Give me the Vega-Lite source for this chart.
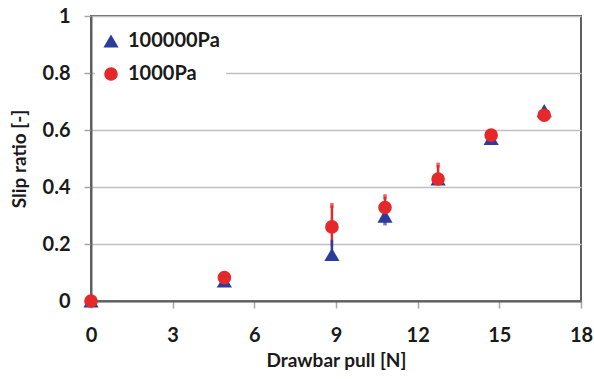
{
  "$schema": "https://vega.github.io/schema/vega-lite/v6.json",
  "autosize": {"type": "none"},
  "width": 490,
  "height": 285,
  "padding": {"left": 91, "top": 16, "right": 12, "bottom": 78},
  "background": "white",
  "config": {
    "font": "Lato",
    "view": {"stroke": "#5f5f5f", "strokeWidth": 2},
    "axis": {
      "labelFont": "Lato", "labelFontWeight": "bold", "labelFontSize": 20, "labelColor": "#1a1a1a",
      "titleFont": "Lato", "titleFontWeight": "bold", "titleFontSize": 19, "titleColor": "#1a1a1a",
      "tickColor": "#a6a6a6", "tickSize": 7, "tickWidth": 1.5,
      "domainColor": "#5f5f5f", "domainWidth": 2
    }
  },
  "data": {
    "values": [
      {"pull": 0, "slip": 0.0, "series": "100000Pa", "lo": null, "hi": null},
      {"pull": 4.9, "slip": 0.07, "series": "100000Pa", "lo": null, "hi": null},
      {"pull": 8.85, "slip": 0.163, "series": "100000Pa", "lo": 0.16, "hi": 0.215},
      {"pull": 10.8, "slip": 0.298, "series": "100000Pa", "lo": 0.274, "hi": 0.32},
      {"pull": 12.75, "slip": 0.428, "series": "100000Pa", "lo": 0.418, "hi": 0.44},
      {"pull": 14.7, "slip": 0.57, "series": "100000Pa", "lo": null, "hi": null},
      {"pull": 16.65, "slip": 0.668, "series": "100000Pa", "lo": null, "hi": null},
      {"pull": 0, "slip": 0.0, "series": "1000Pa", "lo": null, "hi": null},
      {"pull": 4.9, "slip": 0.082, "series": "1000Pa", "lo": null, "hi": null},
      {"pull": 8.85, "slip": 0.26, "series": "1000Pa", "lo": 0.19, "hi": 0.335},
      {"pull": 10.8, "slip": 0.328, "series": "1000Pa", "lo": 0.3, "hi": 0.366},
      {"pull": 12.75, "slip": 0.428, "series": "1000Pa", "lo": 0.41, "hi": 0.477},
      {"pull": 14.7, "slip": 0.582, "series": "1000Pa", "lo": null, "hi": null},
      {"pull": 16.65, "slip": 0.652, "series": "1000Pa", "lo": null, "hi": null}
    ]
  },
  "encoding": {
    "x": {
      "field": "pull", "type": "quantitative",
      "scale": {"domain": [0, 18], "nice": false, "zero": false},
      "axis": {"title": "Drawbar pull [N]", "values": [0, 3, 6, 9, 12, 15, 18], "grid": false, "labelPadding": 17, "titlePadding": 6, "labelFlush": false}
    }
  },
  "layer": [
    {
      "transform": [{"filter": "datum.lo != null && datum.series == '1000Pa'"}],
      "mark": {"type": "rule", "color": "#e5282a", "strokeWidth": 2.5},
      "encoding": {
        "y": {"field": "lo", "type": "quantitative"},
        "y2": {"field": "hi"}
      }
    },
    {
      "transform": [{"filter": "datum.lo != null && datum.series == '1000Pa'"}],
      "mark": {"type": "tick", "color": "#e5282a", "size": 5, "thickness": 3.5},
      "encoding": {"y": {"field": "hi", "type": "quantitative"}}
    },
    {
      "transform": [{"filter": "datum.lo != null && datum.series == '100000Pa'"}],
      "mark": {"type": "rule", "color": "#2b3c9b", "strokeWidth": 2.5},
      "encoding": {
        "y": {"field": "lo", "type": "quantitative"},
        "y2": {"field": "hi"}
      }
    },
    {
      "transform": [{"filter": "datum.lo != null && datum.series == '100000Pa'"}],
      "mark": {"type": "tick", "color": "#2b3c9b", "size": 5, "thickness": 3.5},
      "encoding": {"y": {"field": "lo", "type": "quantitative"}}
    },
    {
      "mark": {"type": "point", "filled": true, "opacity": 1, "clip": false},
      "encoding": {
        "y": {
          "field": "slip", "type": "quantitative",
          "scale": {"domain": [0, 1], "nice": false},
          "axis": {"title": "Slip ratio [-]", "values": [0, 0.2, 0.4, 0.6, 0.8, 1], "format": ".1~f", "grid": true, "gridColor": "#c0c0c0", "gridWidth": 1.5, "labelPadding": 14, "titlePadding": 13}
        },
        "color": {
          "field": "series", "type": "nominal",
          "scale": {"domain": ["100000Pa", "1000Pa"], "range": ["#2b3c9b", "#e5282a"]},
          "legend": {
            "title": null, "orient": "none", "legendX": 4, "legendY": 9,
            "fillColor": "white", "padding": 6, "rowPadding": 13,
            "labelFont": "Lato", "labelFontWeight": "bold", "labelFontSize": 20, "labelColor": "#1a1a1a",
            "symbolSize": 190, "labelOffset": 7
          }
        },
        "shape": {
          "field": "series", "type": "nominal",
          "scale": {"domain": ["100000Pa", "1000Pa"], "range": ["triangle-up", "circle"]}
        },
        "size": {
          "field": "series", "type": "nominal",
          "scale": {"domain": ["100000Pa", "1000Pa"], "range": [230, 185]},
          "legend": null
        }
      }
    }
  ]
}
